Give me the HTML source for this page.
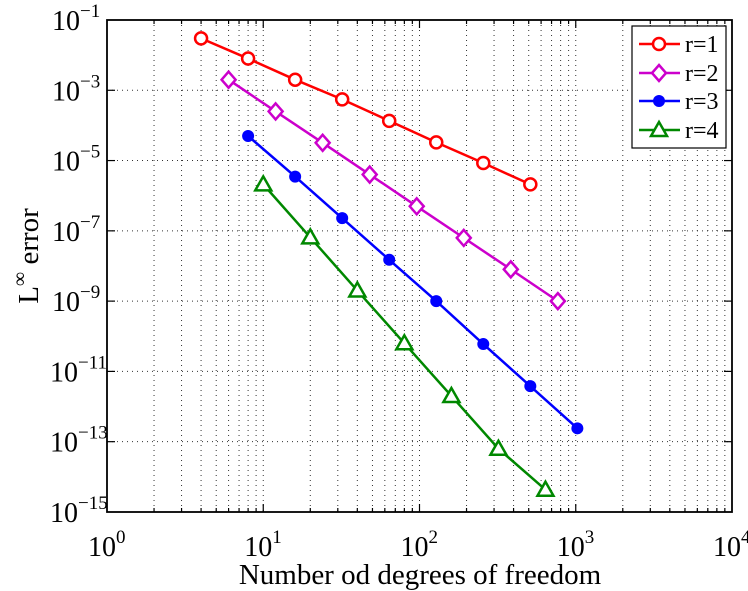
<!DOCTYPE html>
<html><head><meta charset="utf-8"><style>
html,body{margin:0;padding:0;background:#fff;}
svg{display:block;font-family:"Liberation Serif",serif;}
</style></head><body>
<svg width="748" height="591" viewBox="0 0 748 591" xmlns="http://www.w3.org/2000/svg">
<g id="grid" stroke="#333" stroke-width="1" stroke-dasharray="1,4" fill="none"></g>
<g id="ticks" stroke="#000" stroke-width="1.2" fill="none"></g>
<rect x="107" y="20" width="625" height="492" fill="none" stroke="#000" stroke-width="1.8"/>
<g id="series"></g>
<g id="labels" font-size="28" fill="#000"></g>
<text x="420" y="584" font-size="29" text-anchor="middle">Number od degrees of freedom</text>
<text transform="translate(38,256) rotate(-90)" font-size="29" text-anchor="middle">L<tspan font-size="20" dy="-12">∞</tspan><tspan dy="12"> error</tspan></text>
<g>
<rect x="632" y="26" width="94" height="122" fill="#fff" stroke="#000" stroke-width="1.2"/>
<line x1="639" y1="44" x2="680" y2="44" stroke="#f00" stroke-width="2.5"/><circle cx="659" cy="44" r="6" fill="#fff" stroke="#f00" stroke-width="2.5"/>
<text x="685" y="52" font-size="24">r=1</text>
<line x1="639" y1="73" x2="680" y2="73" stroke="#c0c" stroke-width="2.5"/><polygon points="659,65 666,73 659,81 652,73" fill="#fff" stroke="#c0c" stroke-width="2.5"/>
<text x="685" y="81" font-size="24">r=2</text>
<line x1="639" y1="101" x2="680" y2="101" stroke="#00f" stroke-width="2.5"/><circle cx="659" cy="101" r="6" fill="#00f"/>
<text x="685" y="109" font-size="24">r=3</text>
<line x1="639" y1="130" x2="680" y2="130" stroke="#080" stroke-width="2.5"/><polygon points="659,122 667,136 651,136" fill="#fff" stroke="#080" stroke-width="2.5"/>
<text x="685" y="138" font-size="24">r=4</text>
</g>
<script>
var NS="http://www.w3.org/2000/svg";
function X(n){return 107+Math.log10(n)*156.25;}
function Y(v){return 20+(-1-Math.log10(v))*35.14;}
function el(t,a,p){var e=document.createElementNS(NS,t);for(var k in a)e.setAttribute(k,a[k]);p.appendChild(e);return e;}
function pow(x,y,exp,p){var t=el('text',{x:x,y:y},p);t.appendChild(document.createTextNode('10'));
 var s=el('tspan',{'font-size':19,dy:-13},t);s.appendChild(document.createTextNode(exp));}
var grid=document.getElementById('grid'),ticks=document.getElementById('ticks'),lab=document.getElementById('labels');
for(var d=0;d<4;d++)for(var m=1;m<=9;m++){if(d==0&&m==1)continue;var x=X(m*Math.pow(10,d));
 el('line',{x1:x,y1:20,x2:x,y2:512},grid);
 var L=m==1?8:4;el('line',{x1:x,y1:512,x2:x,y2:512-L},ticks);el('line',{x1:x,y1:20,x2:x,y2:20+L},ticks);}
for(var e=-3;e>=-13;e-=2){var y=Y(Math.pow(10,e));el('line',{x1:107,y1:y,x2:732,y2:y},grid);
 el('line',{x1:107,y1:y,x2:115,y2:y},ticks);el('line',{x1:732,y1:y,x2:724,y2:y},ticks);}
for(var e=-1;e>=-15;e-=2){var y=Y(Math.pow(10,e));pow(e<-9?50:52,y+10,'\u2212'+(-e),lab);}
for(var d=0;d<=4;d++){pow(X(Math.pow(10,d))-19,556,''+d,lab);}
var S=[
 {c:'#f00',m:'o',n:[4,8,16,32,64,128,256,512],v:[3e-2,8e-3,2e-3,5.5e-4,1.35e-4,3.3e-5,8.5e-6,2.1e-6]},
 {c:'#c0c',m:'d',n:[6,12,24,48,96,192,384,768],v:[2e-3,2.5e-4,3.2e-5,4e-6,5e-7,6.3e-8,8e-9,1e-9]},
 {c:'#00f',m:'f',n:[8,16,32,64,128,256,512,1024],v:[5e-5,3.5e-6,2.3e-7,1.5e-8,1e-9,6e-11,3.8e-12,2.4e-13]},
 {c:'#080',m:'t',n:[10,20,40,80,160,320,640],v:[2.1e-6,6.5e-8,2e-9,6.3e-11,2e-12,6.3e-14,4.3e-15]}];
var sg=document.getElementById('series');
S.forEach(function(s){var pts=s.n.map(function(n,i){return X(n)+','+Y(s.v[i]);}).join(' ');
 el('polyline',{points:pts,fill:'none',stroke:s.c,'stroke-width':2.5},sg);
 s.n.forEach(function(n,i){var x=X(n),y=Y(s.v[i]);
  if(s.m=='o')el('circle',{cx:x,cy:y,r:6,fill:'#fff',stroke:s.c,'stroke-width':2.5},sg);
  if(s.m=='f')el('circle',{cx:x,cy:y,r:6,fill:s.c},sg);
  if(s.m=='d')el('polygon',{points:x+','+(y-8)+' '+(x+7)+','+y+' '+x+','+(y+8)+' '+(x-7)+','+y,fill:'#fff',stroke:s.c,'stroke-width':2.5},sg);
  if(s.m=='t')el('polygon',{points:x+','+(y-8)+' '+(x+8)+','+(y+6)+' '+(x-8)+','+(y+6),fill:'#fff',stroke:s.c,'stroke-width':2.5},sg);});});
</script>
</svg>
</body></html>
